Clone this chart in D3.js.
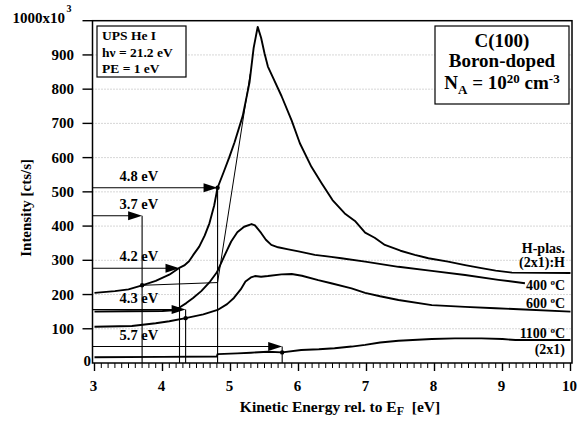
<!DOCTYPE html>
<html><head><meta charset="utf-8">
<script src="https://cdn.jsdelivr.net/npm/d3@7/dist/d3.min.js"></script>
<style>
body{margin:0;background:#fff}
svg{display:block}
text{font-family:"Liberation Serif","Times New Roman",serif;font-weight:bold;fill:#000}
</style>
</head><body>
<svg id="c" width="583" height="423"></svg>
<script>
// ---- data (kinetic energy [eV], intensity [x10^3 cts/s]) ----
const xTicks = [3,4,5,6,7,8,9,10];
const yTicks = [0,100,200,300,400,500,600,700,800,900,1000];
const gridLevels = [100,200,300,400,500,600,700,800,900];

const hplas = [[3.0,205],[3.3,210],[3.5,215],[3.7,227],[3.9,240],[4.1,258],[4.24,277],[4.32,285],[4.39,297],[4.45,315],[4.54,340],[4.62,372],[4.69,408],[4.76,460],[4.81,512],[4.9,558],[4.98,600],[5.06,645],[5.18,722],[5.28,820],[5.34,920],[5.40,982],[5.45,950],[5.50,905],[5.55,866],[5.62,836],[5.75,780],[5.9,708],[6.02,642],[6.19,573],[6.34,525],[6.5,476],[6.68,437],[6.83,415],[6.98,381],[7.12,366],[7.27,345],[7.5,328],[7.71,316],[7.91,306],[8.2,296],[8.45,286],[8.69,277],[8.9,270],[9.14,264],[10,263]];
const t400 = [[3.0,150],[3.5,151],[4.0,152],[4.15,154],[4.25,162],[4.35,175],[4.45,190],[4.57,210],[4.7,238],[4.8,265],[4.88,300],[4.95,330],[5.01,355],[5.1,382],[5.2,398],[5.31,406],[5.36,402],[5.45,380],[5.52,360],[5.6,345],[5.7,338],[5.85,332],[6.0,326],[6.24,316],[6.48,310],[6.63,306],[6.98,296],[7.47,281],[7.96,269],[8.45,257],[8.94,243],[9.33,233]];
const t600 = [[3.0,106],[3.55,108],[3.9,116],[4.1,122],[4.34,131],[4.6,142],[4.81,155],[4.95,172],[5.05,190],[5.15,215],[5.22,238],[5.3,250],[5.36,254],[5.45,252],[5.55,254],[5.75,259],[5.9,260],[6.05,255],[6.29,242],[6.48,233],[6.78,218],[6.98,205],[7.2,195],[7.47,184],[7.96,169],[8.45,164],[8.9,160],[9.24,157],[10,150]];
const t1100 = [[3.0,17],[4.0,18],[4.8,19],[4.81,26],[5.1,28],[5.3,30],[5.55,33],[5.76,31],[6.04,38],[6.3,40],[6.53,43],[6.78,48],[6.98,53],[7.2,60],[7.47,65],[7.96,70],[8.3,72],[8.69,72],[9.0,70],[9.19,67],[10,67]];

// onset annotations: label, onset energy, arrow level, dot level
const onsetLabels = ["4.8 eV","3.7 eV","4.2 eV","4.3 eV","5.7 eV"];
const onsetE      = [4.81, 3.70, 4.25, 4.34, 5.76];
const arrowLevel  = [512, 430, 277, 156, 48];
const dotLevel    = [512, 227, null, 131, 31];

// linear extrapolation lines for the H-plas. spectrum
const baseLine    = [[3.70,227],[4.81,235]];
const tangentLine = [[4.81,235],[5.29,845]];

// ---- layout ----
const svg = d3.select("#c");
const L = 92.5, R = 572, T = 20.7, B = 363;
const x = d3.scaleLinear().domain([3,10]).range([94.5,570.5]);
const y = d3.scaleLinear().domain([0,1000]).range([B,T]);

// grid
svg.append("g").selectAll("line").data(gridLevels).join("line")
  .attr("x1",L).attr("x2",R).attr("y1",d=>y(d)).attr("y2",d=>y(d))
  .attr("stroke","#999").attr("stroke-width",0.8).attr("stroke-dasharray","1,2");

// x axis
const xMinor = d3.range(30,101).map(d=>d/10);
const xa = svg.append("g").attr("transform",`translate(0,${B})`);
xa.selectAll("line.mi").data(xMinor).join("line").attr("class","mi")
  .attr("x1",d=>x(d)).attr("x2",d=>x(d)).attr("y1",0).attr("y2",5)
  .attr("stroke","#000").attr("stroke-width",1);
xa.selectAll("line.ma").data(xTicks).join("line").attr("class","ma")
  .attr("x1",d=>x(d)).attr("x2",d=>x(d)).attr("y1",0).attr("y2",8)
  .attr("stroke","#000").attr("stroke-width",1.4);
xa.selectAll("text").data(xTicks).join("text")
  .attr("x",d=>x(d)-1).attr("y",28).attr("text-anchor","middle")
  .style("font-size","15px").text(d=>d);

// y axis
const yAx = svg.append("g");
yAx.selectAll("line").data(yTicks.filter(d=>d>0)).join("line")
  .attr("x1",L-10).attr("x2",L).attr("y1",d=>y(d)).attr("y2",d=>y(d))
  .attr("stroke","#000").attr("stroke-width",1.4);
yAx.selectAll("text").data(yTicks.filter(d=>d>0 && d<1000)).join("text")
  .attr("x",74).attr("y",d=>y(d)+5).attr("text-anchor","end")
  .style("font-size","15px").text(d=>d);
yAx.append("text").attr("x",91).attr("y",y(0)+3).attr("text-anchor","end")
  .style("font-size","15px").text("0");
yAx.append("text").attr("x",65).attr("y",y(1000)+2).attr("text-anchor","end")
  .style("font-size","15px").text("1000x10");
yAx.append("text").attr("x",66.5).attr("y",y(1000)-9).style("font-size","10px").text("3");

// frame
svg.append("rect").attr("x",L).attr("y",T).attr("width",R-L).attr("height",B-T)
  .attr("fill","none").attr("stroke","#000").attr("stroke-width",1.5);

// axis titles
svg.append("text").attr("transform",`translate(31,${(T+B)/2+16}) rotate(-90)`)
  .attr("text-anchor","middle").style("font-size","15px").text("Intensity [cts/s]");
const xt = svg.append("text").attr("x",340).attr("y",412).attr("text-anchor","middle").style("font-size","15.5px");
xt.append("tspan").text("Kinetic Energy rel. to E");
xt.append("tspan").attr("dy",3).style("font-size","12px").text("F");
xt.append("tspan").attr("dy",-3).attr("xml:space","preserve").text("  [eV]");

// spectra
const line = d3.line().x(d=>x(d[0])).y(d=>y(d[1]));
const plot = svg.append("g");
[hplas,t400,t600,t1100].forEach(s=>{
  plot.append("path").attr("d",line(s)).attr("fill","none")
    .attr("stroke","#000").attr("stroke-width",1.9).attr("stroke-linejoin","round");
});
[baseLine,tangentLine].forEach(s=>{
  plot.append("path").attr("d",line(s)).attr("fill","none")
    .attr("stroke","#000").attr("stroke-width",1);
});

// onset arrows
onsetE.forEach((e,i)=>{
  const xe = x(e), yl = y(arrowLevel[i]);
  plot.append("line").attr("x1",L).attr("x2",xe-6).attr("y1",yl).attr("y2",yl)
    .attr("stroke","#000").attr("stroke-width",1.1);
  plot.append("path").attr("d",`M${xe},${yl}L${xe-14},${yl-4.5}L${xe-14},${yl+4.5}Z`).attr("fill","#000");
  plot.append("line").attr("x1",xe).attr("x2",xe).attr("y1",yl).attr("y2",B)
    .attr("stroke","#000").attr("stroke-width",1.1);
  if(dotLevel[i]!==null) plot.append("circle").attr("cx",xe).attr("cy",y(dotLevel[i])).attr("r",2.2).attr("fill","#000");
  plot.append("text").attr("x",119.5).attr("y",yl-7).style("font-size","14.5px").text(onsetLabels[i]);
});

// right-side labels
const rl = [["H-plas.",253],["(2x1):H",267],["400 ",290,1],["600 ",308,1],["1100 ",338,1],["(2x1)",353.5]];
rl.forEach(r=>{
  const t = svg.append("text").attr("x",565).attr("y",r[1]).attr("text-anchor","end").style("font-size","14px");
  t.append("tspan").attr("xml:space","preserve").text(r[0]);
  if(r[2]){ t.append("tspan").attr("dy",-5).style("font-size","9px").text("o");
            t.append("tspan").attr("dy",5).text("C"); }
});

// box: UPS
svg.append("rect").attr("x",97).attr("y",26).attr("width",89).attr("height",51)
  .attr("fill","#fff").attr("stroke","#000").attr("stroke-width",1.2);
["UPS He I","h\u03BD = 21.2 eV","PE = 1 eV"].forEach((s,i)=>{
  svg.append("text").attr("x",102).attr("y",40+i*16.5).style("font-size","13.5px").text(s);
});

// box: sample
svg.append("rect").attr("x",435).attr("y",26).attr("width",134).attr("height",78)
  .attr("fill","#fff").attr("stroke","#000").attr("stroke-width",1.2);
svg.append("text").attr("x",502).attr("y",47).attr("text-anchor","middle").style("font-size","19px").text("C(100)");
svg.append("text").attr("x",502).attr("y",67).attr("text-anchor","middle").style("font-size","19px").text("Boron-doped");
const na = svg.append("text").attr("x",502).attr("y",89).attr("text-anchor","middle").style("font-size","19px");
na.append("tspan").text("N");
na.append("tspan").attr("dy",5).style("font-size","13px").text("A");
na.append("tspan").attr("dy",-5).text(" = 10");
na.append("tspan").attr("dy",-6).style("font-size","13px").text("20");
na.append("tspan").attr("dy",6).text(" cm");
na.append("tspan").attr("dy",-6).style("font-size","13px").text("-3");
</script>
</body></html>
